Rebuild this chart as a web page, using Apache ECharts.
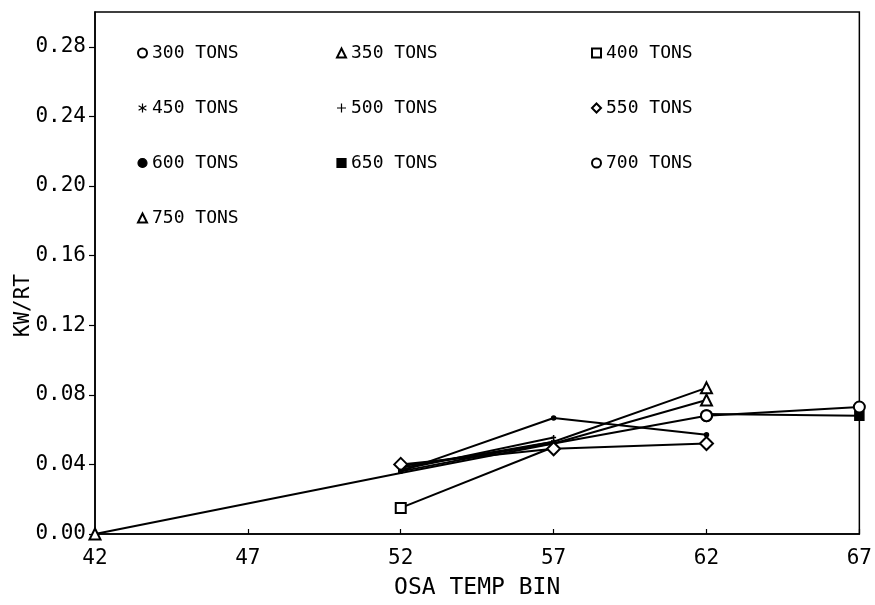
<!DOCTYPE html>
<html>
<head>
<meta charset="utf-8">
<script src="https://cdn.jsdelivr.net/npm/echarts@6/dist/echarts.min.js"></script>
<style>
  html, body { margin: 0; padding: 0; background: #fff; }
  #chart { width: 875px; height: 605px; }
</style>
</head>
<body>
<div id="chart"></div>
<script>
// Temperature bins (deg F) along the x axis
const bins = ['42', '47', '52', '57', '62', '67'];

// KW/RT per bin for each chiller load ('-' = no reading in that bin)
const tons300 = ['-', '-', 0.039, 0.052, 0.068, '-'];
const tons350 = ['-', '-', 0.038, 0.053, 0.084, '-'];
const tons400 = ['-', '-', 0.015, 0.050, '-', '-'];
const tons450 = ['-', '-', 0.036, 0.053, '-', '-'];
const tons500 = ['-', '-', 0.037, 0.0555, '-', '-'];
const tons550 = ['-', '-', 0.040, 0.049, 0.052, '-'];
const tons600 = ['-', '-', 0.036, 0.0667, 0.057, '-'];
const tons650 = ['-', '-', '-', '-', 0.069, 0.068];
const tons700 = ['-', '-', '-', '-', 0.068, 0.073];
const tons750 = [0.000, '-', 0.035, 0.052, 0.077, '-'];

// Y tick labels
const yTicks = [0.00, 0.04, 0.08, 0.12, 0.16, 0.20, 0.24, 0.28];

const FONT = 'DejaVu Sans Mono';
const ASTERISK = 'path://M0,-6L0,6M-5.2,-3L5.2,3M-5.2,3L5.2,-3';
const PLUS = 'path://M0,-6L0,6M-6,0L6,0';

// name, values, marker, marker size, bins where the marker is plotted
const seriesDefs = [
  ['300 TONS', tons300, 'emptyCircle', 11, ['62']],
  ['350 TONS', tons350, 'emptyTriangle', 11, ['62']],
  ['400 TONS', tons400, 'emptyRect', 10, ['52']],
  ['450 TONS', tons450, ASTERISK, 5, ['52', '57']],
  ['500 TONS', tons500, PLUS, 5, ['52', '57']],
  ['550 TONS', tons550, 'emptyDiamond', 13, ['52', '57', '62']],
  ['600 TONS', tons600, 'circle', 4, ['52', '57', '62']],
  ['650 TONS', tons650, 'rect', 9, ['67']],
  ['700 TONS', tons700, 'emptyCircle', 11, ['62', '67']],
  ['750 TONS', tons750, 'emptyTriangle', 11, ['42', '62']]
];

const series = seriesDefs.map(([name, values, symbol, size, marked]) => ({
  name: name,
  type: 'line',
  connectNulls: true,
  symbol: symbol,
  symbolSize: size,
  showAllSymbol: true,
  lineStyle: { color: '#000', width: 2 },
  itemStyle: { color: '#000', borderColor: '#000', borderWidth: 1.5 },
  emphasis: { disabled: true },
  data: values.map((v, i) => v === '-' ? '-' :
    { value: v, symbol: marked.indexOf(bins[i]) >= 0 ? symbol : 'none' }),
  z: 3
}));

// legend icon for each load
const iconOf = {};
seriesDefs.forEach(d => { iconOf[d[0]] = d[2]; });

function legendColumn(names, left) {
  return {
    orient: 'vertical',
    left: left,
    top: 38,
    itemWidth: 9,
    itemHeight: 9,
    itemGap: 35,
    selectedMode: false,
    textStyle: { fontFamily: FONT, fontSize: 18, color: '#000', lineHeight: 20 },
    data: names.map(n => ({
      name: n,
      icon: iconOf[n],
      itemStyle: { color: '#000', borderColor: '#000', borderWidth: 1.2 }
    }))
  };
}

const chart = echarts.init(document.getElementById('chart'), null, { renderer: 'canvas' });
chart.setOption({
  backgroundColor: '#fff',
  animation: false,
  grid: {
    left: 95, right: 12, top: 12, bottom: 64,
    show: true, borderColor: '#000', borderWidth: 1.5, backgroundColor: 'transparent'
  },
  legend: [
    legendColumn(['300 TONS', '450 TONS', '600 TONS', '750 TONS'], 132),
    legendColumn(['350 TONS', '500 TONS', '650 TONS'], 331),
    legendColumn(['400 TONS', '550 TONS', '700 TONS'], 586)
  ],
  graphic: [{
    type: 'text',
    left: 13,
    top: 274,
    rotation: Math.PI / 2,
    style: { text: 'KW/RT', font: '21px "DejaVu Sans Mono"', fill: '#000' }
  }],
  xAxis: {
    type: 'category',
    data: bins,
    boundaryGap: false,
    name: 'OSA TEMP BIN',
    nameLocation: 'middle',
    nameGap: 43,
    nameTextStyle: { fontFamily: FONT, fontSize: 23, color: '#000' },
    axisLine: { lineStyle: { color: '#000', width: 1.5 } },
    axisTick: { inside: true, length: 5, lineStyle: { color: '#000', width: 1.2 } },
    axisLabel: { fontFamily: FONT, fontSize: 21, color: '#000', margin: 14 },
    splitLine: { show: false }
  },
  yAxis: {
    type: 'value',
    min: 0,
    max: 0.30,
    interval: 0.04,
    axisLine: { show: true, lineStyle: { color: '#000', width: 1.5 } },
    axisTick: { show: true, length: 6, customValues: yTicks, lineStyle: { color: '#000', width: 1.2 } },
    axisLabel: {
      fontFamily: FONT, fontSize: 21, color: '#000', margin: 9,
      customValues: yTicks,
      formatter: v => v.toFixed(2)
    },
    splitLine: { show: false }
  },
  series: series
});
</script>
</body>
</html>
